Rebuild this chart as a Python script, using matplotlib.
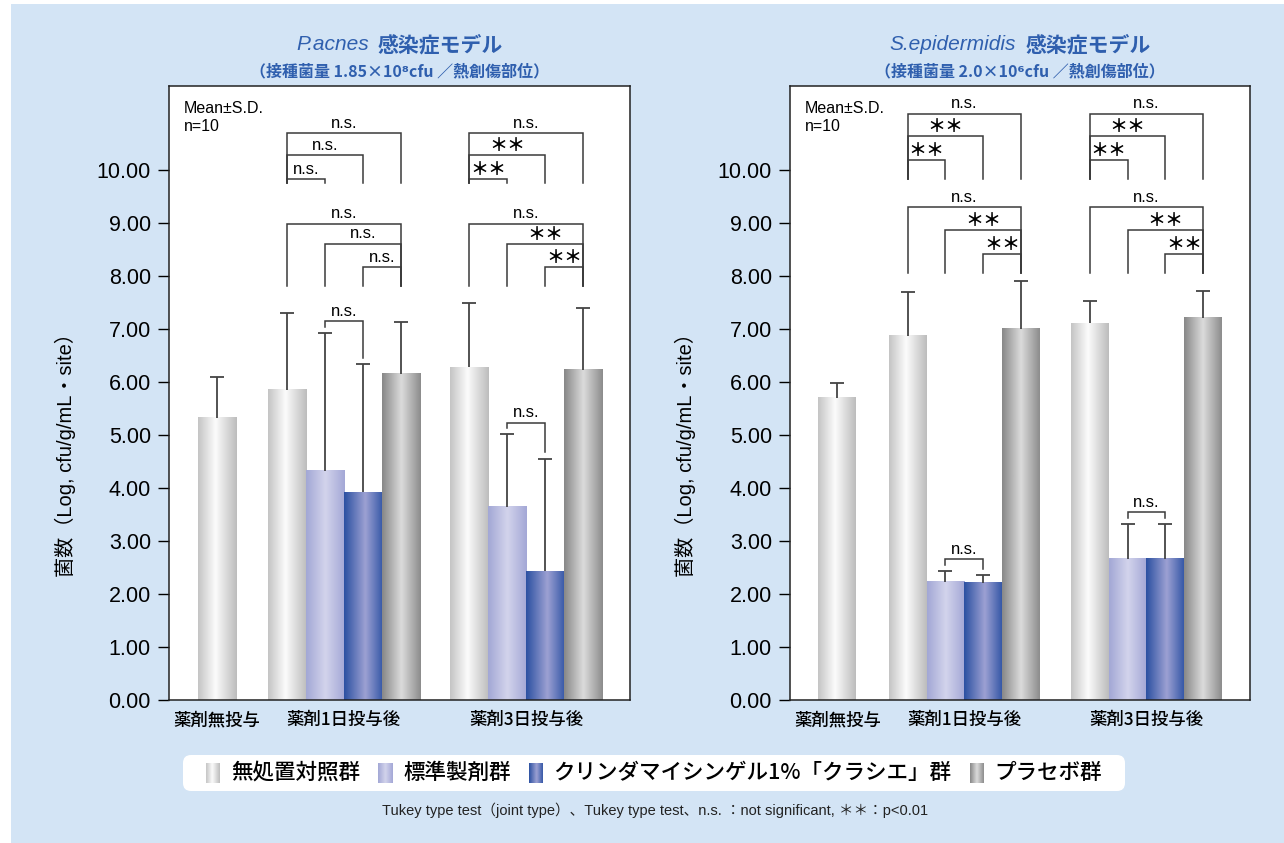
import numpy as np
import matplotlib.pyplot as plt
from matplotlib.colors import LinearSegmentedColormap
from matplotlib.patches import Rectangle, FancyBboxPatch

plt.rcParams['font.family'] = ['Liberation Sans', 'Noto Sans CJK JP']
JP = ['Noto Sans CJK JP', 'DejaVu Sans']
LAT = ['Liberation Sans', 'Noto Sans CJK JP']

# ---- data ----
groups = ["薬剤無投与", "薬剤1日投与後", "薬剤3日投与後"]
series = ["無処置対照群", "標準製剤群", "クリンダマイシンゲル1%「クラシエ」群", "プラセボ群"]

# P.acnes
acnes_pre_mean = [5.32]
acnes_pre_sd = [0.77]
acnes_d1_mean = [5.85, 4.32, 3.92, 6.15]
acnes_d1_sd = [1.44, 2.60, 2.41, 0.98]
acnes_d3_mean = [6.28, 3.64, 2.43, 6.23]
acnes_d3_sd = [1.20, 1.37, 2.12, 1.16]

# S.epidermidis
epi_pre_mean = [5.70]
epi_pre_sd = [0.27]
epi_d1_mean = [6.87, 2.23, 2.21, 7.00]
epi_d1_sd = [0.82, 0.20, 0.14, 0.90]
epi_d3_mean = [7.11, 2.66, 2.66, 7.21]
epi_d3_sd = [0.42, 0.65, 0.66, 0.51]

# significance: control vs (std, clinda, placebo) / placebo vs (control, std, clinda) / std vs clinda
acnes_d1_sig = (["n.s.", "n.s.", "n.s."], ["n.s.", "n.s.", "n.s."], "n.s.")
acnes_d3_sig = (["＊＊", "＊＊", "n.s."], ["n.s.", "＊＊", "＊＊"], "n.s.")
epi_d1_sig = (["＊＊", "＊＊", "n.s."], ["n.s.", "＊＊", "＊＊"], "n.s.")
epi_d3_sig = (["＊＊", "＊＊", "n.s."], ["n.s.", "＊＊", "＊＊"], "n.s.")

# ---- layout ----
W, H = 1284, 843
BLUE = '#2f5fae'
LINE = '#3a3a3a'
group_pos = [1.25, 4.6, 9.4]
bar_w = 1.0
grad = np.linspace(0, 1, 128).reshape(1, -1)

cmaps = [
    LinearSegmentedColormap.from_list('c0', [(0, '#c4c4c4'), (0.45, '#fcfcfc'), (1, '#bcbcbc')]),
    LinearSegmentedColormap.from_list('c1', [(0, '#a2a7d5'), (0.5, '#d3d4ec'), (1, '#a3a7d6')]),
    LinearSegmentedColormap.from_list('c2', [(0, '#2b50a1'), (0.55, '#9da1d3'), (1, '#3658a7')]),
    LinearSegmentedColormap.from_list('c3', [(0, '#878787'), (0.5, '#dcdcdc'), (1, '#8c8c8c')]),
]

fig = plt.figure(figsize=(W / 100, H / 100), dpi=100)
fig.patch.set_facecolor('white')
fig.patches.append(Rectangle((11 / W, 0), 1 - 11 / W, 1 - 4 / H, transform=fig.transFigure,
                             facecolor='#d3e4f5', edgecolor='none', zorder=-10))
renderer = fig.canvas.get_renderer()


def bracket(ax, x0, x1, h, b0, b1, label, size):
    ax.plot([x0, x0, x1, x1], [b0, h, h, b1], color=LINE, lw=1.1, zorder=4, solid_joinstyle='miter')
    if label == "n.s.":
        ax.text((x0 + x1) / 2, h + 0.05, label, ha='center', va='bottom', fontsize=size, family=LAT)
    else:
        ax.text((x0 + x1) / 2, h + 0.0, label, ha='center', va='bottom', fontsize=size + 1,
                fontweight='bold', family=JP)


def panel(ax, pre_mean, pre_sd, d1_mean, d1_sd, d3_mean, d3_sd, sigs, ctrl_lv, ctrl_base, plac_lv, plac_base):
    for gi, (m, s) in enumerate([(pre_mean, pre_sd), (d1_mean, d1_sd), (d3_mean, d3_sd)]):
        n = len(m)
        xs = group_pos[gi] + (np.arange(n) - (n - 1) / 2) * bar_w
        bars = ax.bar(xs, m, width=bar_w, color='none', edgecolor='none')
        for p, cm in zip(bars, cmaps):
            x0, w, h = p.get_x(), p.get_width(), p.get_height()
            ax.imshow(grad, cmap=cm, extent=[x0, x0 + w, 0, h], aspect='auto',
                      interpolation='bicubic', zorder=2)
        eb = ax.errorbar(xs, m, yerr=[np.zeros(n), s], fmt='none', ecolor='#444444',
                         elinewidth=1.3, capsize=4.8, capthick=1.3, zorder=3)
        eb[1][0].set_visible(False)
        if gi == 0:
            continue
        ctrl_sig, plac_sig, pair_sig = sigs[gi - 1]
        # control vs others (upper set)
        for k in range(3):
            bracket(ax, xs[0], xs[k + 1], ctrl_lv[k], ctrl_base, ctrl_base, ctrl_sig[k], 12)
        # placebo vs others (lower set)
        for k in range(3):
            bracket(ax, xs[k], xs[3], plac_lv[k], plac_base, plac_base, plac_sig[k], 12)
        # standard vs clindamycin
        tops = np.array(m) + np.array(s)
        l0, l1 = tops[1] + 0.12, tops[2] + 0.12
        bracket(ax, xs[1], xs[2], max(l0, l1) + 0.1, l0, l1, pair_sig, 12)

    ax.set_xlim(0, 12.13)
    ax.set_ylim(0, 11.58)
    ax.set_yticks(np.arange(0, 11, 1))
    ax.set_yticklabels([f"{v:.2f}" for v in np.arange(0, 11, 1)], family=LAT, fontsize=15.5)
    ax.tick_params(axis='y', direction='out', length=8, width=1, pad=5)
    ax.set_xticks(group_pos)
    ax.set_xticklabels(groups, family=JP, fontsize=12.5, fontweight='medium')
    ax.tick_params(axis='x', length=0, pad=8)
    for sp in ax.spines.values():
        sp.set_color('#222222')
        sp.set_linewidth(1.1)
    ax.text(0.033, 0.975, "Mean±S.D.\nn=10", transform=ax.transAxes, ha='left', va='top',
            fontsize=11.5, linespacing=1.2)


def title(ax, it, jp, sub):
    b = ax.get_position()
    cx = (b.x0 + b.x1) / 2 * W
    t1 = fig.text(0, 1 - 45 / H, it, style='italic', family=LAT, fontsize=15, color=BLUE, va='center')
    t2 = fig.text(0, 1 - 45 / H, jp, family=JP, fontsize=15, fontweight='bold', color=BLUE, va='center')
    w1 = t1.get_window_extent(renderer).width
    w2 = t2.get_window_extent(renderer).width
    x = cx - (w1 + 9 + w2) / 2
    t1.set_x(x / W)
    t2.set_x((x + w1 + 9) / W)
    fig.text(cx / W, 1 - 71 / H, sub, family=JP, fontsize=11.5, fontweight='bold', color=BLUE,
             ha='center', va='center')


ax1 = fig.add_axes([169 / W, 1 - 700 / H, 461 / W, 614 / H])
ax2 = fig.add_axes([790 / W, 1 - 700 / H, 460 / W, 614 / H])

panel(ax1, acnes_pre_mean, acnes_pre_sd, acnes_d1_mean, acnes_d1_sd, acnes_d3_mean, acnes_d3_sd,
      [acnes_d1_sig, acnes_d3_sig], [9.82, 10.27, 10.69], 9.75, [8.98, 8.60, 8.16], 7.80)
panel(ax2, epi_pre_mean, epi_pre_sd, epi_d1_mean, epi_d1_sd, epi_d3_mean, epi_d3_sd,
      [epi_d1_sig, epi_d3_sig], [10.19, 10.63, 11.05], 9.82, [9.29, 8.86, 8.41], 8.06)

title(ax1, "P.acnes", "感染症モデル", "（接種菌量 1.85×10⁸cfu ／熱創傷部位）")
title(ax2, "S.epidermidis", "感染症モデル", "（接種菌量 2.0×10⁶cfu ／熱創傷部位）")

for xpx in (65, 685):
    fig.text(xpx / W, 1 - 450 / H, "菌数（Log, cfu/g/mL・site）", rotation=90, ha='center', va='center',
             family=LAT, fontsize=14.5)

# legend box
fig.patches.append(FancyBboxPatch((1.83, (H - 791) / 100), 9.42, 0.36,
                                  boxstyle='round,pad=0,rounding_size=0.08',
                                  transform=fig.dpi_scale_trans, facecolor='white', edgecolor='none',
                                  zorder=-5))
ly = 773
texts, widths = [], []
for lab in series:
    t = fig.text(0, 1 - ly / H, lab, family=JP, fontsize=15.5, fontweight='medium', va='center')
    texts.append(t)
    widths.append(t.get_window_extent(renderer).width)
sw, g1, g2 = 14, 11, 18
total = sum(widths) + len(series) * (sw + g1) + (len(series) - 1) * g2
x = 654 - total / 2
for t, w, cm in zip(texts, widths, cmaps):
    sax = fig.add_axes([x / W, 1 - (ly + 10) / H, sw / W, 20 / H])
    sax.imshow(grad, cmap=cm, aspect='auto', interpolation='bicubic')
    sax.axis('off')
    x += sw + g1
    t.set_x(x / W)
    x += w + g2

fig.text(655 / W, 1 - 810 / H,
         "Tukey type test（joint type）、Tukey type test、n.s. ：not significant, ＊＊：p<0.01",
         family=LAT, fontsize=10.5, ha='center', va='center', color='#222222')

fig.savefig("out.png", dpi=100)
